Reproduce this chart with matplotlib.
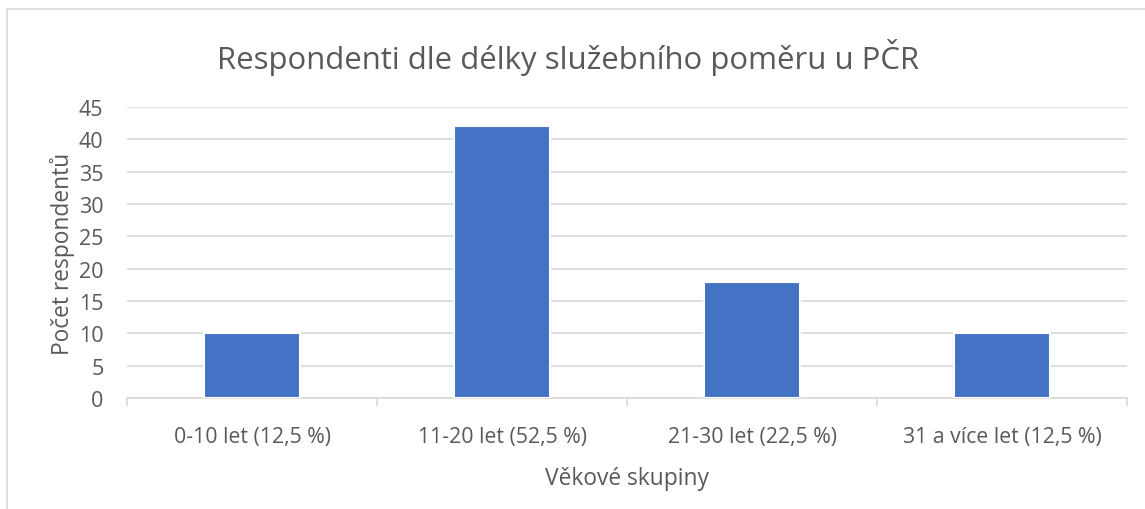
import matplotlib.pyplot as plt
from matplotlib.patches import Rectangle

categories = ["0-10 let (12,5 %)", "11-20 let (52,5 %)", "21-30 let (22,5 %)", "31 a více let (12,5 %)"]
counts = [10, 42, 18, 10]
y_ticks = [0, 5, 10, 15, 20, 25, 30, 35, 40, 45]

plt.rcParams['font.family'] = ['Open Sans', 'DejaVu Sans']
text_color = '#595959'
grid_color = '#D9D9D9'

fig = plt.figure(figsize=(11.45, 5.1), dpi=100)
W, H = 1145, 510
# plot area in pixels: left 127, right 1127, y=0 at 399, y=45 at 108
ax = fig.add_axes([127 / W, 1 - 399 / H, 1000 / W, (399 - 108) / H])

# chart border (Excel style)
fig.patches.append(Rectangle((7 / W, -0.1), 1.2, 1 - 10 / H + 0.1, transform=fig.transFigure,
                             fill=False, edgecolor=grid_color, linewidth=1.2))

x = range(len(categories))
ax.bar(x, counts, width=0.385, color='#4472C4', edgecolor='white', linewidth=1.5, zorder=3)

ax.set_xlim(-0.5, len(categories) - 0.5)
ax.set_ylim(0, 45)
ax.set_yticks(y_ticks)
ax.yaxis.grid(True, color=grid_color, linewidth=1.2, zorder=0)
ax.set_xticks(list(x))
ax.set_xticklabels(categories)

# category boundary tick marks
ax.set_xticks([i - 0.5 for i in range(len(categories) + 1)], minor=True)
ax.tick_params(axis='x', which='major', length=0, pad=20, labelsize=15.3, labelcolor=text_color)
ax.tick_params(axis='x', which='minor', length=6, color=grid_color, width=1.2)
ax.tick_params(axis='y', length=0, pad=17, labelsize=15.5, labelcolor=text_color)

for side in ['top', 'right', 'left']:
    ax.spines[side].set_visible(False)
ax.spines['bottom'].set_color(grid_color)
ax.spines['bottom'].set_linewidth(1.2)

ax.set_xlabel("Věkové skupiny", fontsize=16.4, color=text_color, labelpad=14)
ax.set_ylabel("Počet respondentů", fontsize=16.4, color=text_color, labelpad=3)
fig.text(568 / W, 1 - 58 / H, "Respondenti dle délky služebního poměru u PČR",
         ha='center', va='center', fontsize=22.4, color=text_color)

fig.savefig("out.png", dpi=100)
